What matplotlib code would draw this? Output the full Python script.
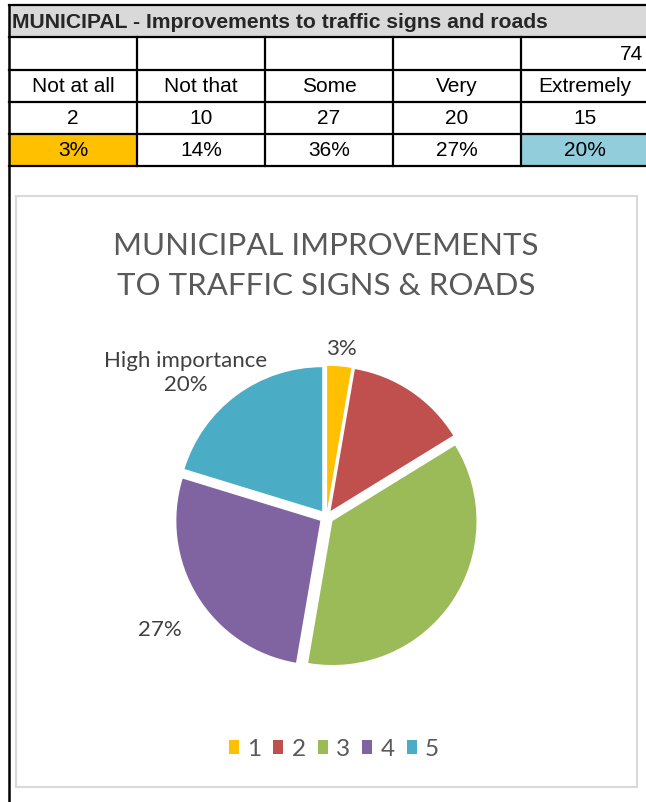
import matplotlib.pyplot as plt
from matplotlib.patches import Rectangle

# ==========================================================
# DATA
# ==========================================================

TABLE_TITLE = "MUNICIPAL - Improvements to traffic signs and roads"
CHART_TITLE = "MUNICIPAL IMPROVEMENTS\nTO TRAFFIC SIGNS & ROADS"

categories = ["Not at all", "Not that", "Some", "Very", "Extremely"]
counts = [2, 10, 27, 20, 15]
legend_labels = ["1", "2", "3", "4", "5"]

# only some slices carry a label in the chart
slice_labels = ["{p}%", "", "", "{p}%", "High importance\n{p}%"]

total = sum(counts)
percents = [round(100 * c / total) for c in counts]

# ==========================================================
# STYLE
# ==========================================================

W, H = 646, 802
pie_colors = ["#FFC000", "#C0504D", "#9BBB59", "#8064A2", "#4BACC6"]
cell_fill = ["#FFC000", "white", "white", "white", "#92CDDC"]

table_font = "Liberation Sans"
chart_font = "Lato"
grey_text = "#595959"

fig = plt.figure(figsize=(W / 100, H / 100), dpi=100)

# background axes in pixel units, for the sheet table and chart frame
ax = fig.add_axes([0, 0, 1, 1])
ax.set_xlim(0, W)
ax.set_ylim(H, 0)
ax.axis("off")

# ==========================================================
# TABLE
# ==========================================================

x0, col_w = 9, 128
row_edges = [5, 37, 69.5, 101.5, 133.5, 166]
col_edges = [x0 + i * col_w for i in range(len(categories) + 1)]

ax.add_patch(Rectangle((x0, row_edges[0]), W, row_edges[1] - row_edges[0],
                       facecolor="#D9D9D9", edgecolor="none"))
for i, fill in enumerate(cell_fill):
    ax.add_patch(Rectangle((col_edges[i], row_edges[4]), col_w,
                           row_edges[5] - row_edges[4],
                           facecolor=fill, edgecolor="none"))

for y in row_edges:
    ax.plot([x0, W], [y, y], color="black", lw=1.6)
for x in col_edges[1:-1]:
    ax.plot([x, x], [row_edges[1], row_edges[5]], color="black", lw=1.6)
ax.plot([x0, x0], [row_edges[0], H], color="black", lw=1.8)

ax.text(x0 + 3, (row_edges[0] + row_edges[1]) / 2 + 1, TABLE_TITLE,
        fontsize=15.2, fontweight="bold", family=table_font,
        color="#262626", ha="left", va="center")

ax.text(W - 3, (row_edges[1] + row_edges[2]) / 2 + 1, str(total),
        fontsize=15, family=table_font, ha="right", va="center")

for i in range(len(categories)):
    cx = col_edges[i] + col_w / 2
    row_text = [categories[i], str(counts[i]), f"{percents[i]}%"]
    for r, txt in enumerate(row_text):
        cy = (row_edges[2 + r] + row_edges[3 + r]) / 2 + 1
        ax.text(cx, cy, txt, fontsize=15, family=table_font,
                ha="center", va="center")

# ==========================================================
# CHART FRAME + TITLE
# ==========================================================

ax.add_patch(Rectangle((16, 196), 621, 591, facecolor="white",
                       edgecolor="#D9D9D9", lw=1.5))

ax.text(326, 266, CHART_TITLE, fontsize=22.5, family=chart_font,
        color=grey_text, ha="center", va="center", linespacing=1.55)

# ==========================================================
# PIE
# ==========================================================

cx, cy, r = 326.5, 517, 144
lim = 1.2
side = 2 * lim * r
ax_pie = fig.add_axes([(cx - side / 2) / W, (H - cy - side / 2) / H,
                       side / W, side / H])

wedges, _ = ax_pie.pie(
    counts,
    colors=pie_colors,
    startangle=90,
    counterclock=False,
    explode=[0.05] * len(counts),
    radius=1,
    wedgeprops=dict(linewidth=0),
)
ax_pie.set_xlim(-lim, lim)
ax_pie.set_ylim(-lim, lim)
ax_pie.set_aspect("equal")
ax_pie.axis("off")

label_pos = [(0.10, 1.17), None, None, (-1.155, -0.785), (-0.98, 1.0)]
for lbl, p, pos in zip(slice_labels, percents, label_pos):
    if pos is None or not lbl:
        continue
    ax_pie.text(pos[0], pos[1], lbl.format(p=p), fontsize=16,
                family=chart_font, color="#404040",
                ha="center", va="center", linespacing=1.3)

# ==========================================================
# LEGEND
# ==========================================================

fig.legend(
    wedges,
    legend_labels,
    loc="center",
    bbox_to_anchor=(334 / W, 1 - 749 / H),
    ncol=5,
    frameon=False,
    handlelength=0.4,
    handleheight=0.5,
    handletextpad=0.35,
    columnspacing=0.5,
    prop=dict(family=chart_font, size=17.5),
    labelcolor=grey_text,
)

plt.savefig("out.png", dpi=100)
